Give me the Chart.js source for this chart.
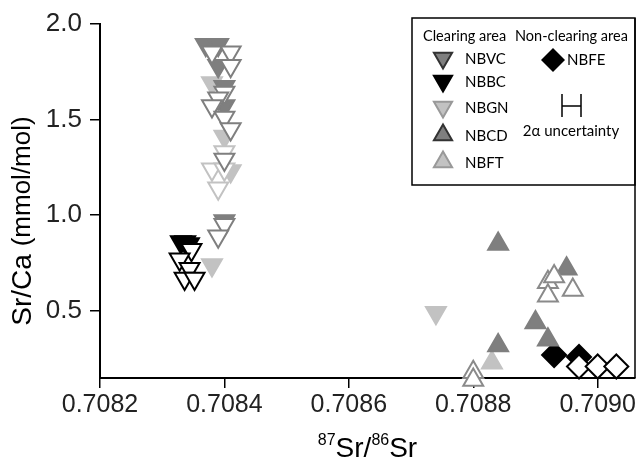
<!DOCTYPE html>
<html>
<head>
<meta charset="utf-8">
<script src="https://cdn.jsdelivr.net/npm/chart.js@4.4.1/dist/chart.umd.min.js"></script>
<style>
  html, body { margin: 0; padding: 0; background: #fff; }
  #wrap { width: 640px; height: 466px; }
</style>
</head>
<body>
<div id="wrap"><canvas id="chart" width="640" height="466"></canvas></div>
<script>
// --- tick labels ---
const xTicks = [0.7082, 0.7084, 0.7086, 0.7088, 0.7090];
const yTicks = [0.5, 1.0, 1.5, 2.0];

// --- series values, [87Sr/86Sr, Sr/Ca] ---
// clearing area
const nbvcFilled = [[0.70837, 1.89], [0.70839, 1.89], [0.70839, 1.78], [0.70840, 1.67], [0.70840, 1.57], [0.70840, 0.97]];
const nbvcOpen = [[0.70838, 1.85], [0.70841, 1.85], [0.70841, 1.78], [0.70840, 1.64], [0.70839, 1.61], [0.70838, 1.57],
  [0.70840, 1.51], [0.70841, 1.45], [0.70840, 1.29], [0.70840, 0.95], [0.70839, 0.89]];
const nbbcFilled = [[0.708330, 0.86], [0.708337, 0.86], [0.708343, 0.85]];
const nbbcOpen = [[0.708347, 0.82], [0.708328, 0.77], [0.708344, 0.72], [0.708336, 0.67], [0.708352, 0.67]];
const nbgnFilled = [[0.70838, 1.69], [0.70840, 1.41], [0.70841, 1.23], [0.70838, 0.74], [0.70874, 0.49]];
const nbgnOpen = [[0.70840, 1.33], [0.70838, 1.24], [0.70840, 1.24], [0.70839, 1.14]];
const nbcdFilled = [[0.70884, 0.85], [0.70884, 0.32], [0.70895, 0.72], [0.70890, 0.44], [0.70892, 0.35]];
const nbcdOpen = [[0.70892, 0.65], [0.70893, 0.68], [0.70896, 0.61], [0.70892, 0.58], [0.70880, 0.18], [0.70880, 0.14]];
const nbftFilled = [[0.70883, 0.23]];
// non-clearing area
const nbfeFilled = [[0.70893, 0.27], [0.70897, 0.26]];
const nbfeOpen = [[0.70897, 0.21], [0.70900, 0.21], [0.70903, 0.21]];

const FONT = "'Liberation Sans', Arial, Helvetica, sans-serif";
const LEGEND_FONT = "Lato, 'Liberation Sans', sans-serif";
const DARK = "#7f7f7f";
const LIGHT = "#c2c2c2";

function series(label, pairs, shape, fill, stroke, order) {
  return {
    label: label,
    data: pairs.map(([x, y]) => ({ x: x, y: y })),
    pointStyle: shape === "diamond" ? "rectRot" : "triangle",
    pointRotation: shape === "down" ? 180 : 0,
    pointRadius: shape === "diamond" ? 12 : 11.5,
    pointHoverRadius: 11.5,
    pointBackgroundColor: fill,
    pointBorderColor: stroke,
    pointBorderWidth: 2,
    showLine: false,
    clip: false,
    order: order,
  };
}

function markerPath(ctx, shape, x, y, r) {
  ctx.beginPath();
  if (shape === "down") {
    ctx.moveTo(x - r * 0.866, y - r / 2);
    ctx.lineTo(x + r * 0.866, y - r / 2);
    ctx.lineTo(x, y + r);
  } else if (shape === "up") {
    ctx.moveTo(x, y - r);
    ctx.lineTo(x + r * 0.866, y + r / 2);
    ctx.lineTo(x - r * 0.866, y + r / 2);
  } else {
    ctx.moveTo(x, y - r);
    ctx.lineTo(x + r, y);
    ctx.lineTo(x, y + r);
    ctx.lineTo(x - r, y);
  }
  ctx.closePath();
}

// Custom legend box, axis titles and right border
const decorations = {
  id: "decorations",
  afterDraw(chart) {
    const ctx = chart.ctx;
    const area = chart.chartArea;
    ctx.save();

    // legend box + right border line
    ctx.strokeStyle = "#000";
    ctx.lineWidth = 1.5;
    ctx.beginPath();
    ctx.rect(412, 18, area.right - 412, 167);
    ctx.stroke();
    ctx.beginPath();
    ctx.moveTo(area.right, 18);
    ctx.lineTo(area.right, area.bottom);
    ctx.stroke();

    ctx.fillStyle = "#000";
    ctx.font = "14.5px " + LEGEND_FONT;
    ctx.textBaseline = "middle";
    ctx.textAlign = "left";
    ctx.fillText("Clearing area", 423, 36);
    ctx.fillText("Non-clearing area", 515, 36);

    ctx.font = "15px " + LEGEND_FONT;
    const items = [
      ["NBVC", "down", 58, DARK, "#333"],
      ["NBBC", "down", 81, "#000", "#000"],
      ["NBGN", "down", 107, LIGHT, "#999"],
      ["NBCD", "up", 135, DARK, "#333"],
      ["NBFT", "up", 162, LIGHT, "#999"],
    ];
    items.forEach(([name, shape, y, fill, stroke]) => {
      markerPath(ctx, shape, 443, y, 10.5);
      ctx.fillStyle = fill;
      ctx.fill();
      ctx.strokeStyle = stroke;
      ctx.lineWidth = 2;
      ctx.stroke();
      ctx.fillStyle = "#000";
      ctx.fillText(name, 465, y + 1);
    });

    markerPath(ctx, "diamond", 553, 60, 12);
    ctx.fillStyle = "#000";
    ctx.fill();
    ctx.fillText("NBFE", 567, 60);

    // 2α error bar symbol
    ctx.strokeStyle = "#000";
    ctx.lineWidth = 1.5;
    ctx.beginPath();
    ctx.moveTo(562, 94); ctx.lineTo(562, 117);
    ctx.moveTo(581, 94); ctx.lineTo(581, 117);
    ctx.moveTo(562, 106); ctx.lineTo(581, 106);
    ctx.stroke();
    ctx.textAlign = "center";
    ctx.fillText("2α uncertainty", 571, 131);

    // y axis title
    ctx.save();
    ctx.translate(23, 221);
    ctx.rotate(-Math.PI / 2);
    ctx.textAlign = "left";
    ctx.textBaseline = "middle";
    const t1 = "Sr/Ca ";
    ctx.font = "28px " + FONT;
    const w1 = ctx.measureText(t1).width;
    ctx.font = "26px " + FONT;
    const w2 = ctx.measureText("(mmol/mol)").width;
    const x0 = -(w1 + w2) / 2;
    ctx.font = "28px " + FONT;
    ctx.fillText(t1, x0, 0);
    ctx.font = "26px " + FONT;
    ctx.fillText("(mmol/mol)", x0 + w1, 0);
    ctx.restore();

    // x axis title with superscripts
    const parts = [["87", 16, -12], ["Sr/", 28, 0], ["86", 16, -12], ["Sr", 28, 0]];
    let total = 0;
    parts.forEach((p) => { ctx.font = p[1] + "px " + FONT; total += ctx.measureText(p[0]).width; });
    let xx = (area.left + area.right) / 2 - total / 2;
    ctx.textAlign = "left";
    ctx.textBaseline = "alphabetic";
    parts.forEach((p) => {
      ctx.font = p[1] + "px " + FONT;
      ctx.fillText(p[0], xx, 457 + p[2]);
      xx += ctx.measureText(p[0]).width;
    });

    ctx.restore();
  },
};

new Chart(document.getElementById("chart"), {
  type: "scatter",
  data: {
    datasets: [
      series("NBVC", nbvcFilled, "down", DARK, DARK, 3),
      series("NBBC", nbbcFilled, "down", "#000", "#000", 3),
      series("NBGN", nbgnFilled, "down", LIGHT, LIGHT, 3),
      series("NBCD", nbcdFilled, "up", DARK, DARK, 3),
      series("NBFT", nbftFilled, "up", LIGHT, LIGHT, 3),
      series("NBFE", nbfeFilled, "diamond", "#000", "#000", 3),
      series("NBVC open", nbvcOpen, "down", "#fff", DARK, 2),
      series("NBBC open", nbbcOpen, "down", "#fff", "#000", 2),
      series("NBGN open", nbgnOpen, "down", "#fff", LIGHT, 2),
      series("NBCD open", nbcdOpen, "up", "#fff", "#8a8a8a", 2),
      series("NBFE open", nbfeOpen, "diamond", "#fff", "#000", 1),
    ],
  },
  options: {
    responsive: false,
    animation: false,
    devicePixelRatio: 1,
    layout: { autoPadding: false, padding: { top: 20, right: 5, left: 0, bottom: 0 } },
    plugins: { legend: { display: false }, tooltip: { enabled: false } },
    scales: {
      x: {
        type: "linear",
        min: 0.7082,
        max: 0.70906,
        z: 1,
        afterBuildTicks: (s) => { s.ticks = xTicks.map((v) => ({ value: v })); },
        afterFit: (s) => { s.height = 88; s.paddingLeft = 0; s.paddingRight = 0; },
        ticks: {
          callback: (v) => v.toFixed(4),
          font: { family: FONT, size: 25 },
          color: "#222",
          padding: 2,
          maxRotation: 0,
          autoSkip: false,
        },
        grid: { drawOnChartArea: false, tickLength: 10, color: "#000", lineWidth: 1.5 },
        border: { color: "#000", width: 2 },
      },
      y: {
        min: 0.15,
        max: 2.0,
        z: 1,
        afterBuildTicks: (s) => { s.ticks = yTicks.map((v) => ({ value: v })); },
        afterFit: (s) => { s.width = 100; },
        ticks: {
          callback: (v) => v.toFixed(1),
          font: { family: FONT, size: 26 },
          color: "#222",
          padding: 8,
        },
        grid: { drawOnChartArea: false, tickLength: 10, color: "#000", lineWidth: 1.5 },
        border: { color: "#000", width: 2 },
      },
    },
  },
  plugins: [decorations],
});
</script>
</body>
</html>
